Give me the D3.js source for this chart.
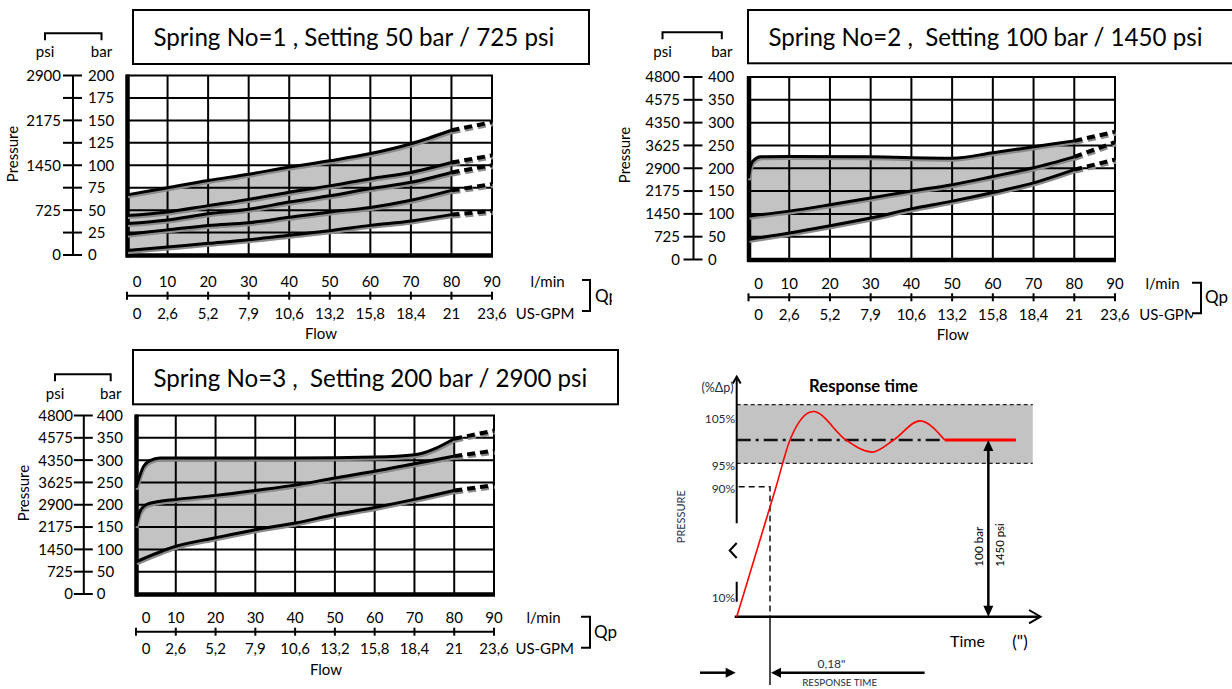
<!DOCTYPE html>
<html><head><meta charset="utf-8">
<script src="https://cdn.jsdelivr.net/npm/d3@7"></script>
<style>
body{margin:0;background:#fff;}
svg{display:block;font-family:Lato,"Open Sans",sans-serif;}
text{white-space:pre;}
</style></head><body>
<svg id="chart" width="1232" height="689"></svg>
<script>
// ---------- DATA ----------
const flowLmin = [0,10,20,30,40,50,60,70,80,90];
const flowGpm = ["0","2,6","5,2","7,9","10,6","13,2","15,8","18,4","21","23,6"];
const flowSteps = [0,10,20,30,40,50,60,70,80];

const spring1Bar = [0,25,50,75,100,125,150,175,200];
const spring1Psi = ["0","","725","","1450","","2175","","2900"];
const spring23Bar = [0,50,100,150,200,250,300,350,400];
const spring23Psi = ["0","725","1450","2175","2900","3625","4350","4575","4800"];

const titleTexts = [
  "Spring No=1 , Setting 50 bar / 725 psi",
  "Spring No=2 ,  Setting 100 bar / 1450 psi",
  "Spring No=3 ,  Setting 200 bar / 2900 psi"
];

// Spring 1 (bar at flowSteps)
const s1Top    = [67,75,83,90,98,105,113,124,139];
const s1Line2  = [44,48,55,62,70,77,85,92,103];
const s1Line3  = [35,39,46,51,59,66,74,81,92];
const s1Line4  = [23,28,33,36,42,48,53,61,72];
const s1Bottom = [5,9,13,17,22,27,33,38,45];
const s1DashEnd90 = [148,111,100,79,49];

// Spring 2
const s2TopFlow = [0,0.4,1.1,3,10,30,50,60,70,80];
const s2Top     = [178,200,216,225,226,225,222,234,247,260];
const s2Line2   = [95,106,120,135,150,164,182,201,225];
const s2Bottom  = [44,58,74,91,111,128,147,168,197];
const s2DashEnd90 = [280,257,219];

// Spring 3
const s3TopFlow = [0,1.9,3.5,6,20,40,60,70,80];
const s3Top     = [238,286,299,305,305,305,307,312,348];
const s3MidFlow = [0,1,2.5,5,10,20,30,40,50,60,70,80];
const s3Mid     = [152,185,200,206,212,221,232,244,260,275,292,309];
const s3Bottom  = [72,107,126,144,159,178,194,212,232];
const s3DashEnd90 = [366,321,244];

// Response time
const rtLevels = [105,95,90,10];
const rtLevelLabels = ["105%","95%","90%","10%"];
const rtCurveT = [0,0.036,0.213,0.288,0.414,0.591,0.73,0.848,0.99,1.124];
const rtCurveP = [0,10,90,100,106.1,100,97.4,100,104.1,100];
const rtSteadyT = [1.124,1.509];
const rtBand = [95,107.6];
const rtResponse = 0.18;
const rtArrowT = 1.36;
const rtBandEndT = 1.6;

// ---------- HELPERS ----------
const svg = d3.select("#chart");
function fitText(sel, w){
  const len = sel.node().getComputedTextLength();
  const fs = parseFloat(sel.style("font-size"));
  if (len > 0) sel.style("font-size", (fs*w/len).toFixed(2)+"px");
  return sel;
}
const pts = (xs, ys) => d3.zip(xs, ys);
let clipId = 0;

function drawSpring(c){
  const g = svg.append("g");
  const x = d3.scaleLinear().domain([0,90]).range([c.x0,c.x1]);
  const y = d3.scaleLinear().domain([0,d3.max(c.barTicks)]).range([c.yBot,c.yTop]);

  // title box
  g.append("rect").attr("x",c.box[0]).attr("y",c.box[1])
    .attr("width",c.box[2]-c.box[0]).attr("height",c.box[3]-c.box[1])
    .attr("fill","#fff").attr("stroke","#000").attr("stroke-width",2);
  fitText(g.append("text").attr("x",c.titleX).attr("y",c.titleY).attr("dy","0.36em")
    .style("font-size","23px").text(c.title), c.titleW);

  const line = d3.line().x(d=>x(d[0])).y(d=>y(d[1])).curve(d3.curveMonotoneX);
  const area = d3.area().x(d=>x(d[0])).y0(y(0)).y1(d=>y(d[1])).curve(d3.curveMonotoneX);

  // envelope fill
  g.append("path").attr("d",area(c.top)).attr("fill","#c3c3c3");
  g.append("path").attr("d",area(c.bottom)).attr("fill","#fff");

  // grid
  g.selectAll(null).data(flowLmin.slice(1,-1)).join("line")
    .attr("x1",d=>x(d)).attr("x2",d=>x(d)).attr("y1",c.yTop).attr("y2",c.yBot)
    .attr("stroke","#000").attr("stroke-width",2);
  g.selectAll(null).data(c.barTicks.slice(1,-1)).join("line")
    .attr("x1",c.x0).attr("x2",c.x1).attr("y1",d=>y(d)).attr("y2",d=>y(d))
    .attr("stroke","#000").attr("stroke-width",2);
  g.append("rect").attr("x",c.x0).attr("y",c.yTop).attr("width",c.x1-c.x0).attr("height",c.yBot-c.yTop)
    .attr("fill","none").attr("stroke","#000").attr("stroke-width",2);
  g.append("line").attr("x1",c.x0+0.5).attr("x2",c.x0+0.5).attr("y1",c.yTop-1).attr("y2",c.yBot+2.5)
    .attr("stroke","#000").attr("stroke-width",4.5);
  g.append("line").attr("x1",c.x0-1).attr("x2",c.x1+1).attr("y1",c.yBot+0.5).attr("y2",c.yBot+0.5)
    .attr("stroke","#000").attr("stroke-width",4.5);

  // curves
  c.lines.forEach(p=>{
    g.append("path").attr("d",line(p)).attr("fill","none").attr("stroke","#8a8a8a")
      .attr("stroke-width",3).attr("transform","translate(1,2)");
    g.append("path").attr("d",line(p)).attr("fill","none").attr("stroke","#000").attr("stroke-width",3);
  });
  const lin = d3.line().x(d=>x(d[0])).y(d=>y(d[1]));
  c.dashes.forEach(p=>{
    g.append("path").attr("d",lin(p)).attr("fill","none").attr("stroke","#8a8a8a")
      .attr("stroke-width",4).attr("stroke-dasharray","8,5").attr("transform","translate(1,2)");
    g.append("path").attr("d",lin(p)).attr("fill","none").attr("stroke","#000")
      .attr("stroke-width",4).attr("stroke-dasharray","8,5");
  });

  // left pressure axis
  g.append("line").attr("x1",c.axisX).attr("x2",c.axisX).attr("y1",y(0)).attr("y2",y(d3.max(c.barTicks)))
    .attr("stroke","#000").attr("stroke-width",2);
  c.barTicks.forEach((b,i)=>{
    g.append("line").attr("x1",c.axisX-10).attr("x2",c.axisX+9).attr("y1",y(b)).attr("y2",y(b))
      .attr("stroke","#000").attr("stroke-width",2);
    g.append("text").attr("x",c.barLabelX).attr("y",y(b)).attr("dy","0.36em")
      .style("font-size","15px").text(b);
    if (c.psiTicks[i]) g.append("text").attr("x",c.psiLabelX).attr("y",y(b)).attr("dy","0.36em")
      .attr("text-anchor","end").style("font-size","15px").text(c.psiTicks[i]);
  });
  g.append("text").attr("x",c.psiHdrX).attr("y",c.hdrY).attr("dy","0.36em").attr("text-anchor","middle")
    .style("font-size","15px").text("psi");
  g.append("text").attr("x",c.barHdrX).attr("y",c.hdrY).attr("dy","0.36em").attr("text-anchor","middle")
    .style("font-size","15px").text("bar");
  g.append("path").attr("d",`M${c.psiHdrX},${c.bracketY+7}V${c.bracketY}H${c.barHdrX}V${c.bracketY+7}`)
    .attr("fill","none").attr("stroke","#000").attr("stroke-width",2);
  g.append("text").attr("transform",`translate(${c.pressX},${c.pressY}) rotate(-90)`)
    .attr("dy","0.36em").attr("text-anchor","middle").style("font-size","15px").text("Pressure");

  // flow axis
  const ay = c.flowAxisY;
  g.append("line").attr("x1",x(0)).attr("x2",x(90)).attr("y1",ay).attr("y2",ay)
    .attr("stroke","#000").attr("stroke-width",2);
  flowLmin.forEach((v,i)=>{
    const px = x(v);
    g.append("line").attr("x1",px).attr("x2",px).attr("y1",ay-4).attr("y2",ay+4)
      .attr("stroke","#000").attr("stroke-width",2);
    const lx = i===0 ? px+10 : px;
    g.append("text").attr("x",lx).attr("y",c.lminY).attr("dy","0.36em").attr("text-anchor","middle")
      .style("font-size","15px").text(v);
    g.append("text").attr("x",lx).attr("y",c.gpmY).attr("dy","0.36em").attr("text-anchor","middle")
      .style("font-size","15px").text(flowGpm[i]);
  });
  g.append("text").attr("x",c.lminUnitX).attr("y",c.lminY).attr("dy","0.36em").attr("text-anchor","middle")
    .style("font-size","15px").text("l/min");
  const gp = g.append("text").attr("x",c.gpmUnitX).attr("y",c.gpmY).attr("dy","0.36em").attr("text-anchor","middle")
    .style("font-size","15px").text("US-GPM");
  if (c.gpmClip){
    const id="clp"+(clipId++);
    svg.append("clipPath").attr("id",id).append("rect").attr("x",0).attr("y",0).attr("width",c.gpmClip).attr("height",689);
    gp.attr("clip-path",`url(#${id})`);
  }
  g.append("path").attr("d",`M${c.brX0},${c.brY0}H${c.brX1}V${c.brY1}H${c.brX0}`)
    .attr("fill","none").attr("stroke","#000").attr("stroke-width",2);
  const qp = g.append("text").attr("x",c.qpX).attr("y",ay).attr("dy","0.36em").style("font-size","17px").text("Qp");
  if (c.qpClip){
    const id="clp"+(clipId++);
    svg.append("clipPath").attr("id",id).append("rect").attr("x",0).attr("y",0).attr("width",c.qpClip).attr("height",689);
    qp.attr("clip-path",`url(#${id})`);
  }
  g.append("text").attr("x",c.flowLblX).attr("y",c.flowLblY).attr("dy","0.36em").attr("text-anchor","middle")
    .style("font-size","15px").text("Flow");
}

// ---------- SPRING PANELS ----------
const dashFrom = (lines, ends) => lines.map((p,i)=>[p[p.length-1],[90,ends[i]]]);

const s1Lines = [s1Top,s1Line2,s1Line3,s1Line4,s1Bottom].map(v=>pts(flowSteps,v));
drawSpring({
  title:titleTexts[0], box:[133,10,589,64], titleX:153.4, titleY:37.3, titleW:401,
  x0:127, x1:492, yTop:75.5, yBot:255, barTicks:spring1Bar, psiTicks:spring1Psi,
  axisX:73, psiLabelX:61, barLabelX:88, psiHdrX:45, barHdrX:101.5, bracketY:33.3, hdrY:52,
  flowAxisY:295.7, lminY:281.7, gpmY:313.3, lminUnitX:547.5, gpmUnitX:545,
  brX0:582, brX1:590, brY0:280, brY1:311, qpX:595, qpClip:612,
  flowLblX:321, flowLblY:333.3, pressX:13, pressY:154,
  top:s1Lines[0], bottom:s1Lines[4], lines:s1Lines, dashes:dashFrom(s1Lines,s1DashEnd90)
});

const s2Lines = [pts(s2TopFlow,s2Top), pts(flowSteps,s2Line2), pts(flowSteps,s2Bottom)];
drawSpring({
  title:titleTexts[1], box:[748,10,1240,63.3], titleX:768.5, titleY:37, titleW:434,
  x0:748.5, x1:1115, yTop:77, yBot:259.5, barTicks:spring23Bar, psiTicks:spring23Psi,
  axisX:693.5, psiLabelX:680, barLabelX:708, psiHdrX:662.5, barHdrX:721.8, bracketY:32.3, hdrY:51.7,
  flowAxisY:297.3, lminY:283.3, gpmY:315, lminUnitX:1162.5, gpmUnitX:1168.5, gpmClip:1193,
  brX0:1192, brX1:1201, brY0:282.7, brY1:313.3, qpX:1205,
  flowLblX:952.8, flowLblY:334.3, pressX:625, pressY:155,
  top:s2Lines[0], bottom:s2Lines[2], lines:s2Lines, dashes:dashFrom(s2Lines,s2DashEnd90)
});

const s3Lines = [pts(s3TopFlow,s3Top), pts(s3MidFlow,s3Mid), pts(flowSteps,s3Bottom)];
drawSpring({
  title:titleTexts[2], box:[133,350,618,404.3], titleX:153.4, titleY:378.3, titleW:434,
  x0:136, x1:494, yTop:415.5, yBot:594, barTicks:spring23Bar, psiTicks:spring23Psi,
  axisX:83.8, psiLabelX:73, barLabelX:96.8, psiHdrX:55, barHdrX:110.7, bracketY:374.3, hdrY:393.3,
  flowAxisY:631.7, lminY:617.7, gpmY:649, lminUnitX:543.5, gpmUnitX:544.7,
  brX0:581, brX1:590, brY0:616.7, brY1:647.7, qpX:594,
  flowLblX:326, flowLblY:670, pressX:24, pressY:493,
  top:s3Lines[0], bottom:s3Lines[2], lines:s3Lines, dashes:dashFrom(s3Lines,s3DashEnd90)
});

// ---------- RESPONSE TIME ----------
(function(){
  const g = svg.append("g");
  const tx = d3.scaleLinear().domain([0,1.637]).range([736.7,1039.6]);
  const py = d3.scaleLinear().domain([0,10,90,100,105]).range([616.7,595,486.7,440,416.7]);
  const lab = "#1e2f40";
  const x0 = tx(0), yb = py(0);

  // band
  g.append("rect").attr("x",x0).attr("y",py(rtBand[1])).attr("width",tx(rtBandEndT)-x0)
    .attr("height",py(rtBand[0])-py(rtBand[1])).attr("fill","#c3c3c3");
  rtBand.forEach(v=>g.append("line").attr("x1",x0).attr("x2",tx(rtBandEndT)).attr("y1",py(v)).attr("y2",py(v))
    .attr("stroke","#222").attr("stroke-width",1.3).attr("stroke-dasharray","4,3"));

  // dash-dot 100% line with shadow
  const defs = svg.append("defs");
  defs.append("filter").attr("id","blr").append("feGaussianBlur").attr("stdDeviation",1.5);
  g.append("line").attr("x1",x0).attr("x2",tx(rtCurveT[rtCurveT.length-1])+8).attr("y1",py(100)+4).attr("y2",py(100)+4)
    .attr("stroke","#8a8a8a").attr("stroke-width",4).attr("stroke-dasharray","14,5,3,5").attr("filter","url(#blr)");
  g.append("line").attr("x1",x0).attr("x2",tx(rtCurveT[rtCurveT.length-1])).attr("y1",py(100)).attr("y2",py(100))
    .attr("stroke","#111").attr("stroke-width",2.5).attr("stroke-dasharray","14,5,3,5");

  // response-time construction lines
  const xr = tx(rtResponse);
  g.append("path").attr("d",`M${x0+2},${py(90)}H${xr}V${yb}`).attr("fill","none")
    .attr("stroke","#111").attr("stroke-width",1.5).attr("stroke-dasharray","6,4");
  g.append("line").attr("x1",xr).attr("x2",xr).attr("y1",yb).attr("y2",685).attr("stroke","#111").attr("stroke-width",1.5);

  // axes (broken pressure axis)
  g.append("path").attr("d",`M${x0},601.7V581.7M${x0},523.3V376.7`).attr("stroke","#000").attr("stroke-width",2);
  g.append("path").attr("d",`M${x0-4},${383.5}L${x0},${376.7}L${x0+4},${383.5}`).attr("fill","none").attr("stroke","#000").attr("stroke-width",2);
  g.append("path").attr("d",`M${x0},543L${x0-7},550.5L${x0},558`).attr("fill","none").attr("stroke","#000").attr("stroke-width",2);
  g.append("line").attr("x1",x0-2).attr("x2",1040).attr("y1",yb).attr("y2",yb).attr("stroke","#000").attr("stroke-width",2.5);
  g.append("path").attr("d",`M1029,610L1040.5,${yb}L1029,623.4`).attr("fill","none").attr("stroke","#000").attr("stroke-width",2);

  // red response
  const line = d3.line().x(d=>tx(d[0])).y(d=>py(d[1])).curve(d3.curveMonotoneX);
  g.append("path").attr("d",line(d3.zip(rtCurveT,rtCurveP))).attr("fill","none").attr("stroke","#ff0000").attr("stroke-width",1.6);
  g.append("line").attr("x1",tx(rtSteadyT[0])).attr("x2",tx(rtSteadyT[1])).attr("y1",py(100)).attr("y2",py(100))
    .attr("stroke","#ff0000").attr("stroke-width",3);

  // double arrow
  const xa = tx(rtArrowT);
  g.append("line").attr("x1",xa).attr("x2",xa).attr("y1",py(100)+8).attr("y2",yb-8).attr("stroke","#000").attr("stroke-width",2.5);
  g.append("path").attr("d",`M${xa},${py(100)}L${xa-5},${py(100)+11}L${xa+5},${py(100)+11}Z`);
  g.append("path").attr("d",`M${xa},${yb}L${xa-5},${yb-11}L${xa+5},${yb-11}Z`);
  fitText(g.append("text").attr("transform",`translate(978.6,546.7) rotate(-90)`).attr("dy","0.36em")
    .attr("text-anchor","middle").style("font-size","12px").text("100 bar"),40);
  fitText(g.append("text").attr("transform",`translate(999.4,545) rotate(-90)`).attr("dy","0.36em")
    .attr("text-anchor","middle").style("font-size","12px").text("1450 psi"),43.5);

  // labels
  rtLevels.forEach((v,i)=>g.append("text").attr("x",x0-1.5).attr("y",py(v)+2.3).attr("dy","0.36em")
    .attr("text-anchor","end").attr("fill",lab).style("font-size","12px").text(rtLevelLabels[i]));
  g.append("text").attr("x",x0-3).attr("y",387.5).attr("dy","0.36em").attr("text-anchor","end")
    .attr("fill",lab).style("font-size","12.5px").text("(%Δp)");
  fitText(g.append("text").attr("x",863.5).attr("y",386).attr("dy","0.36em").attr("text-anchor","middle")
    .style("font-size","15px").style("font-weight","bold").text("Response time"),109);
  fitText(g.append("text").attr("transform","translate(681,516.7) rotate(-90)").attr("dy","0.36em")
    .attr("text-anchor","middle").attr("fill","#1d3550").style("font-size","10px").text("PRESSURE"),53);
  fitText(g.append("text").attr("x",950).attr("y",641.7).attr("dy","0.36em").style("font-size","17px").text("Time"),35);
  g.append("text").attr("x",1020).attr("y",641.7).attr("dy","0.36em").attr("text-anchor","middle").style("font-size","17px").text('(")');

  // response time arrows
  const ya = 672.7;
  g.append("line").attr("x1",700).attr("x2",x0-8).attr("y1",ya).attr("y2",ya).attr("stroke","#000").attr("stroke-width",2.5);
  g.append("path").attr("d",`M${x0-1},${ya}L${x0-11},${ya-5}L${x0-11},${ya+5}Z`);
  g.append("line").attr("x1",924.6).attr("x2",xr+8).attr("y1",ya).attr("y2",ya).attr("stroke","#000").attr("stroke-width",2.5);
  g.append("path").attr("d",`M${xr+1},${ya}L${xr+11},${ya-5}L${xr+11},${ya+5}Z`);
  g.append("text").attr("x",831.5).attr("y",663.3).attr("dy","0.36em").attr("text-anchor","middle")
    .attr("fill",lab).style("font-size","12px").text('0,18"');
  fitText(g.append("text").attr("x",839.6).attr("y",682.5).attr("dy","0.36em").attr("text-anchor","middle")
    .attr("fill",lab).style("font-size","8.5px").text("RESPONSE TIME"),75);
})();
</script>
</body></html>
